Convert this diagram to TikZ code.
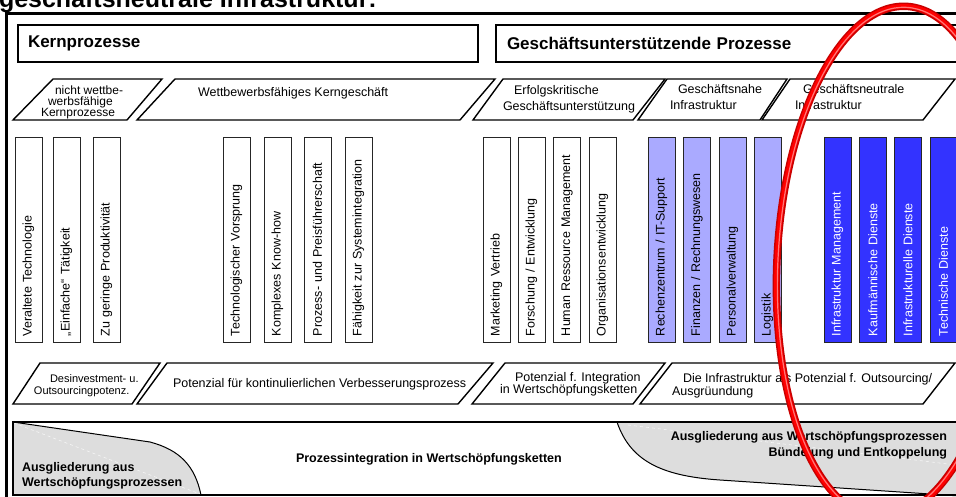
\documentclass[tikz,border=0pt]{standalone}
\usepackage{fontspec}
\setmainfont{Liberation Sans}
\definecolor{lightbar}{RGB}{170,170,255}
\definecolor{darkbar}{RGB}{51,51,255}
\definecolor{bandgray}{RGB}{221,221,221}
\begin{document}
\begin{tikzpicture}[x=1pt,y=-1pt,
  every node/.style={inner sep=0pt, outer sep=0pt},
  frameline/.style={line width=3pt},
  headbox/.style={draw, line width=1.5pt, anchor=north west, minimum height=37pt,
    align=left, font=\bfseries\fontsize{17}{20}\selectfont},
  pbox/.style={draw, line width=1.4pt, fill=white, line join=miter},
  ptext/.style={font=\fontsize{12.5}{14}\selectfont, anchor=base west},
  psmall/.style={font=\fontsize{12}{13}\selectfont, anchor=base west},
  qsmall/.style={font=\fontsize{11}{13}\selectfont, anchor=base west},
  boldtext/.style={font=\bfseries\fontsize{12.5}{14}\selectfont},
  bar/.style={draw=black!85, line width=0.8pt, rotate=90, minimum width=205pt,
    minimum height=27pt, text width=193pt, align=left, inner xsep=6pt,
    font=\fontsize{12.5}{14}\selectfont},
  plainbar/.style={bar, fill=white},
  nahebar/.style={bar, fill=lightbar},
  neutralbar/.style={bar, fill=darkbar, text=white},
  ringouter/.style={draw={rgb,255:red,200;green,0;blue,0}, line width=7.5pt},
  ringinner/.style={draw={rgb,255:red,255;green,0;blue,0}, line width=4.5pt},
  ringshine/.style={draw={rgb,255:red,255;green,120;blue,120}, line width=1.2pt},
]
\useasboundingbox (0,0) rectangle (956,497);
\clip (0,0) rectangle (956,497);

% heading, cut at the upper edge
\node[font=\bfseries\fontsize{25}{28}\selectfont, anchor=base west] (title) at (-1,8)
  {geschäftsneutrale Infrastruktur:};

% outer frame
\draw[frameline] (6,500) -- (6,14) -- (965,14);

% process headers
\node[headbox, minimum width=460pt, text width=440pt, inner xsep=10pt] (kern) at (18,25) {Kernprozesse};
\node[headbox, minimum width=480pt, text width=458pt, inner xsep=11pt] (stuetz) at (496,25) {Geschäftsunterstützende Prozesse};

% upper row of categories
\draw[pbox] (13,120) -- (53,79) -- (162,79) -- (127,120) -- cycle;
\draw[pbox] (137,120) -- (175,79) -- (495,79) -- (460,120) -- cycle;
\draw[pbox] (473,120) -- (503,79) -- (665,79) -- (633,120) -- cycle;
\draw[pbox] (638,120) -- (667,79) -- (787,79) -- (760,120) -- cycle;
\draw[pbox] (762,120) -- (790,79) -- (955,79) -- (923,120) -- cycle;

\node[psmall] (c1a) at (55,95) {nicht wettbe-};
\node[psmall] (c1b) at (48,105.5) {werbsfähige};
\node[psmall] (c1c) at (41,117) {Kernprozesse};
\node[ptext] (c2) at (198,97) {Wettbewerbsfähiges Kerngeschäft};
\node[ptext] (c3a) at (514,95) {Erfolgskritische};
\node[ptext] (c3b) at (503,111) {Geschäftsunterstützung};
\node[ptext] (c4a) at (678,94) {Geschäftsnahe};
\node[ptext] (c4b) at (670,110) {Infrastruktur};
\node[ptext] (c5a) at (803,94) {Geschäftsneutrale};
\node[ptext] (c5b) at (795,110) {Infrastruktur};

% activity bars
\node[plainbar] (b1) at (28.5,239.5) {Veraltete Technologie};
\node[plainbar] (b2) at (66.5,239.5) {„Einfache“ Tätigkeit};
\node[plainbar] (b3) at (106.5,239.5) {Zu geringe Produktivität};
\node[plainbar] (b4) at (236.5,239.5) {Technologischer Vorsprung};
\node[plainbar] (b5) at (277.5,239.5) {Komplexes Know-how};
\node[plainbar] (b6) at (317.5,239.5) {Prozess- und Preisführerschaft};
\node[plainbar] (b7) at (358.5,239.5) {Fähigkeit zur Systemintegration};
\node[plainbar] (b8) at (496.5,239.5) {Marketing Vertrieb};
\node[plainbar] (b9) at (531.5,239.5) {Forschung / Entwicklung};
\node[plainbar] (b10) at (567,239.5) {Human Ressource Management};
\node[plainbar] (b11) at (602.5,239.5) {Organisationsentwicklung};
\node[nahebar] (b12) at (661.5,239.5) {Rechenzentrum / IT-Support};
\node[nahebar] (b13) at (697,239.5) {Finanzen / Rechnungswesen};
\node[nahebar] (b14) at (732.5,239.5) {Personalverwaltung};
\node[nahebar] (b15) at (767.5,239.5) {Logistik};
\node[neutralbar] (b16) at (837.5,239.5) {Infrastruktur Management};
\node[neutralbar] (b17) at (873,239.5) {Kaufmännische Dienste};
\node[neutralbar] (b18) at (908,239.5) {Infrastrukturelle Dienste};
\node[neutralbar] (b19) at (943.5,239.5) {Technische Dienste};

% lower row of potentials
\draw[pbox] (13,404) -- (40,363) -- (160,363) -- (132,404) -- cycle;
\draw[pbox] (137,404) -- (167,363) -- (493,363) -- (458,404) -- cycle;
\draw[pbox] (472,404) -- (505,363) -- (665,363) -- (633,404) -- cycle;
\draw[pbox] (640,404) -- (672,363) -- (955,363) -- (923,404) -- cycle;

\node[qsmall] (d1a) at (50,382) {Desinvestment- u.};
\node[qsmall] (d1b) at (34,394) {Outsourcingpotenz.};
\node[ptext] (d2) at (173,387) {Potenzial für kontinulierlichen Verbesserungsprozess};
\node[ptext] (d3a) at (515,381) {Potenzial f. Integration};
\node[ptext] (d3b) at (500,393) {in Wertschöpfungsketten};
\node[ptext] (d4a) at (683,382) {Die Infrastruktur als Potenzial f. Outsourcing/};
\node[ptext] (d4b) at (672,395) {Ausgrüundung};

% bottom band with the two outsourcing wedges
\fill[white] (13,422) rectangle (975,495);
\filldraw[fill=bandgray, line width=1pt] (13,422) -- (150,442)
  .. controls (180,450) and (195,466) .. (201,495) -- (13,495) -- cycle;
\filldraw[fill=bandgray, line width=1pt] (617,422)
  .. controls (630,460) and (660,476) .. (720,480) -- (975,497) -- (975,422) -- cycle;
\draw[white, line width=0.6pt, dashed, opacity=0.7] (14,423) -- (200,494);
\draw[white, line width=0.6pt, dashed, opacity=0.7] (628,425) -- (956,465);
\draw[line width=1.6pt] (13,422) rectangle (975,495);

\node[boldtext, anchor=base west] (e1) at (296,462.5) {Prozessintegration in Wertschöpfungsketten};
\node[boldtext, anchor=base west] (e2a) at (22,471.5) {Ausgliederung aus};
\node[boldtext, anchor=base west] (e2b) at (22,486.5) {Wertschöpfungsprozessen};
\node[boldtext, anchor=base east] (e3a) at (947,440) {Ausgliederung aus Wertschöpfungsprozessen};
\node[boldtext, anchor=base east] (e3b) at (947,456) {Bündelung und Entkoppelung};

% red marking ring
\draw[ringouter] (893,262) ellipse [x radius=116, y radius=256, rotate=-3];
\draw[ringinner] (893,262) ellipse [x radius=116, y radius=256, rotate=-3];
\draw[ringshine] (893,262) ellipse [x radius=115, y radius=255, rotate=-3];
\end{tikzpicture}
\end{document}
